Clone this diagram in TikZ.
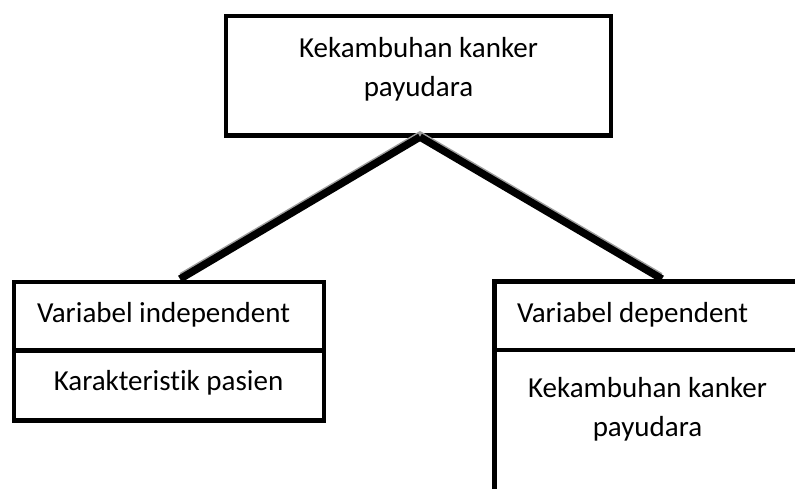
\documentclass[tikz,border=0pt]{standalone}
\usepackage{fontspec}
\setmainfont{Carlito}[Ligatures=NoCommon]
\begin{document}
\begin{tikzpicture}[x=1pt,y=-1pt,
  box/.style={draw=black,line width=4.5pt,inner sep=0pt,outer sep=0pt,anchor=north west},
  txt/.style={inner sep=0pt,outer sep=0pt,font=\fontsize{29}{39}\selectfont},
  link/.style={line width=7.5pt,black},
  shade/.style={line width=7.5pt,black!38}]
\useasboundingbox (0,0) rectangle (795,489);
\clip (0,0) rectangle (795,489);
% boxes
\node[box,minimum width=385pt,minimum height=119.5pt] (top) at (226,16) {};
\node[box,minimum width=310pt,minimum height=68.5pt] (leftA) at (14,282) {};
\node[box,minimum width=310pt,minimum height=70pt] (leftB) at (14,350.5) {};
\node[box,minimum width=308pt,minimum height=68.5pt] (rightA) at (494.5,281.5) {};
\node[box,minimum width=308pt,minimum height=180pt] (rightB) at (494.5,350) {};
% connector ends
\coordinate (apex) at (420,137);
\coordinate (lend) at (180,279);
\coordinate (rend) at (662,279);
\draw[shade] ([xshift=1.5pt,yshift=2.6pt]apex) -- ([xshift=1.5pt,yshift=2.6pt]lend);
\draw[shade] ([xshift=-1.5pt,yshift=2.6pt]apex) -- ([xshift=-1.5pt,yshift=2.6pt]rend);
\draw[link] (apex) -- (lend);
\draw[link] (apex) -- (rend);
% texts
\node[txt,align=center,anchor=base] (toptext) at (418.5,97) {Kekambuhan kanker\\payudara};
\node[txt,anchor=base west] (indep) at (37,322) {Variabel independent};
\node[txt,anchor=base] (karak) at (168.5,390) {Karakterist{\kern0pt}ik pasien};
\node[txt,anchor=base west] (dep) at (517,322) {Variabel dependent};
\node[txt,align=center,anchor=base] (deptext) at (647.5,436.5) {Kekambuhan kanker\\payudara};
\end{tikzpicture}
\end{document}
